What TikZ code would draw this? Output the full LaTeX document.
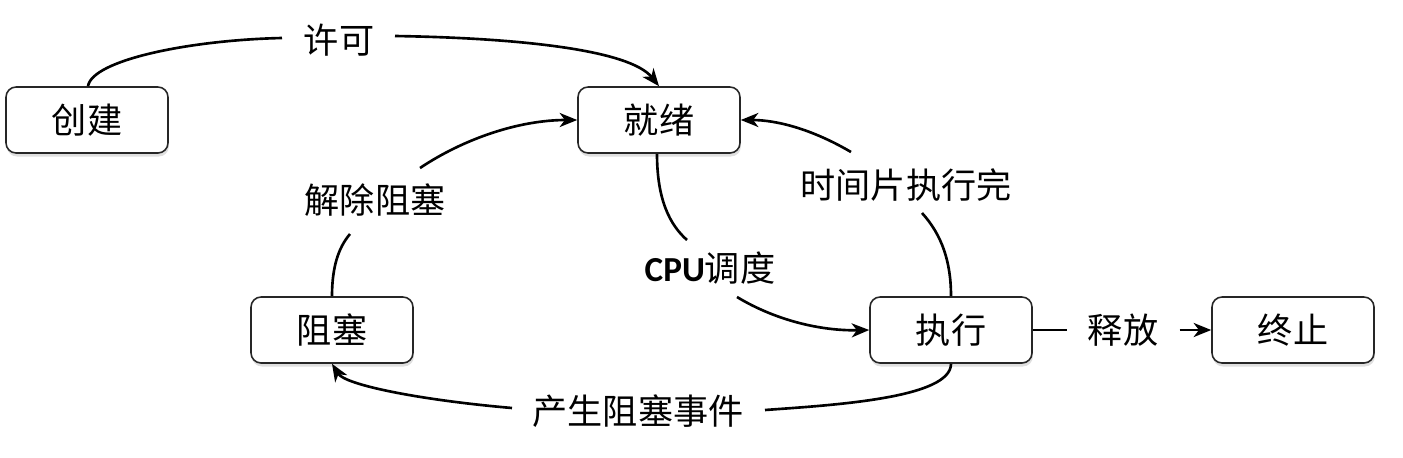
\documentclass[tikz,border=0pt]{standalone}
\usepackage{fontspec}
\setmainfont{Noto Sans CJK SC}
\newfontfamily\latinfont{Carlito}
\usetikzlibrary{arrows.meta,shadows}
\begin{document}
\begin{tikzpicture}[x=0.02cm,y=-0.02cm,
  state/.style={draw=black!85,line width=0.9pt,fill=white,rounded corners=0.2cm,
    minimum width=3.24cm,minimum height=1.32cm,inner sep=0pt,
    font=\fontsize{20}{24}\selectfont,
    drop shadow={opacity=0.25,shadow xshift=0.5pt,shadow yshift=-2pt}},
  lbl/.style={inner sep=0pt,font=\fontsize{20}{24}\selectfont},
  conn/.style={line width=1.5pt,black},
  arr/.style={conn,-{Stealth[length=10pt,width=8pt,inset=3pt]}}]
\useasboundingbox (0,0) rectangle (1403,457);
\node[state] (cj) at (87,120) {创建};
\node[state] (jx) at (659,120) {就绪};
\node[state] (zs) at (332,330) {阻塞};
\node[state] (zx) at (951,330) {执行};
\node[state] (zz) at (1293,330) {终止};
\node[lbl] (xk) at (339,40) {许可};
\node[lbl] (jc) at (375,200) {解除阻塞};
\node[lbl] (sj) at (906,185) {时间片执行完};
\node[lbl] (cpu) at (710,268) {{\latinfont\bfseries CPU}调度};
\node[lbl] (sf) at (1123,330) {释放};
\node[lbl] (cs) at (638,411) {产生阻塞事件};
\coordinate (xkw) at (282,38);
\coordinate (xke) at (395,36);
% 许可
\draw[conn] ([xshift=0.02cm]cj.north) .. controls (92,60) and (190,40) .. (xkw);
\draw[arr] (xke) .. controls (520,38) and (630,50) .. (jx.north);
% 解除阻塞
\coordinate (jcs) at (350,234);
\coordinate (jcn) at (420,168);
\draw[conn] (zs.north) .. controls (332,268) and (338,248) .. (jcs);
\draw[arr] (jcn) .. controls (465,138) and (520,120) .. (jx.west);
% CPU调度
\coordinate (cpun) at (687,240);
\coordinate (cpus) at (737,297);
\draw[conn] ([xshift=-0.04cm]jx.south) .. controls (657,200) and (670,225) .. (cpun);
\draw[arr] (cpus) .. controls (775,320) and (820,331) .. (zx.west);
% 时间片执行完
\coordinate (sjs) at (922,213);
\coordinate (sjn) at (851,152);
\draw[conn] (zx.north) .. controls (951,262) and (942,235) .. (sjs);
\draw[arr] (sjn) .. controls (810,128) and (775,120) .. (jx.east);
% 产生阻塞事件
\coordinate (cse) at (765,410);
\coordinate (csw) at (512,408);
\draw[conn] (zx.south) .. controls (951,398) and (835,405) .. (cse);
\draw[arr] (csw) .. controls (420,400) and (345,385) .. (zs.south);
% 释放
\draw[conn] (zx.east) -- ([xshift=-0.42cm]sf.west);
\draw[arr] ([xshift=0.42cm]sf.east) -- (zz.west);
\end{tikzpicture}
\end{document}
